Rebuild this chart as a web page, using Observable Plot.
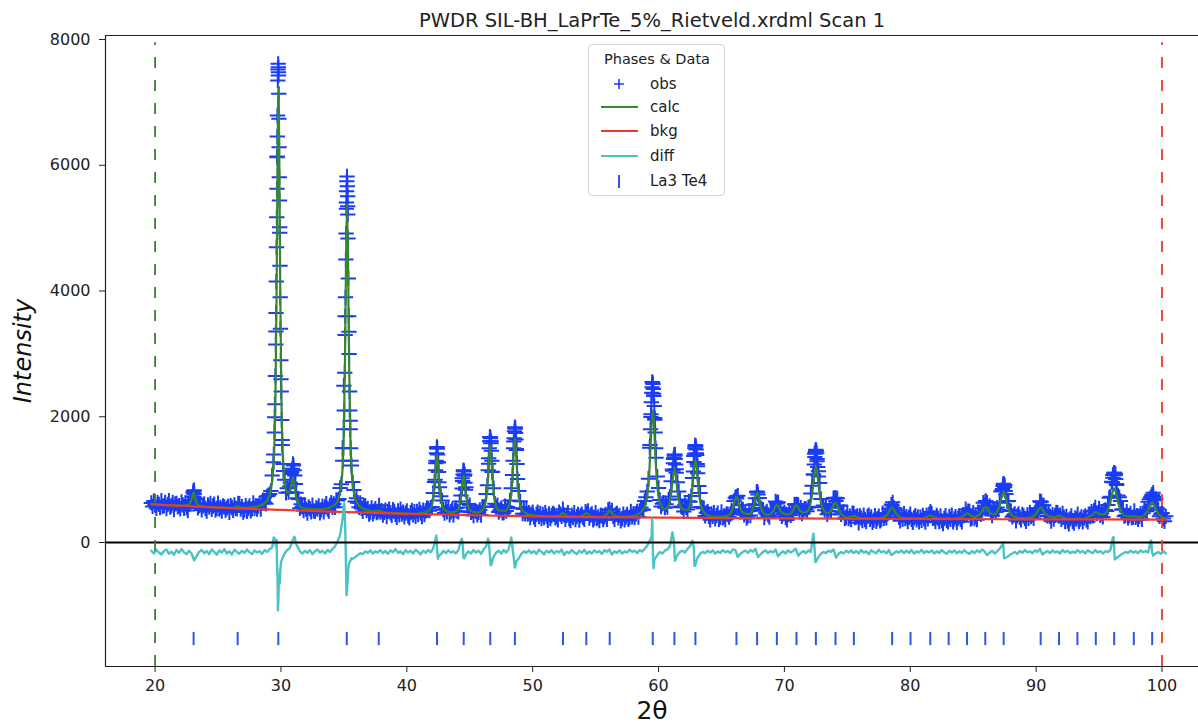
<!DOCTYPE html>
<html><head><meta charset="utf-8">
<script src="https://cdn.jsdelivr.net/npm/d3@7"></script>
<script src="https://cdn.jsdelivr.net/npm/@observablehq/plot@0.6"></script>
<style>
body{margin:0;background:#fff;font-family:"DejaVu Sans",sans-serif;}
#wrap{position:relative;width:1198px;height:723px;overflow:hidden;}
#legend{position:absolute;left:588px;top:44px;width:137px;height:152px;border:1px solid #d4d4d4;border-radius:4px;background:rgba(255,255,255,0.85);box-sizing:border-box;}
</style></head><body><div id="wrap"></div>
<script>
const title = "PWDR SIL-BH_LaPrTe_5%_Rietveld.xrdml Scan 1";
const xTicks = [20, 30, 40, 50, 60, 70, 80, 90, 100];
const yTicks = [0, 2000, 4000, 6000, 8000];
const phaseName = "La3 Te4";

// observed intensity, regular 2θ grid
const obsStart = 19.7, obsStep = 0.1;
const obsI = [
630,574,662,595,544,633,607,556,665,579,
583,637,541,605,664,563,587,636,525,614,
623,567,586,535,644,598,542,631,555,509,
608,678,658,729,831,695,692,550,589,619,
519,583,612,545,499,598,562,621,526,581,
610,514,543,627,531,560,499,583,567,513,
547,576,480,588,557,511,600,542,534,620,
617,531,570,485,519,588,497,541,581,505,
534,631,544,587,531,581,622,530,625,673,
635,616,735,749,771,819,1066,1277,1991,3355,
6139,7428,4928,2597,1631,1136,997,791,864,800,
889,1090,1173,1223,1066,790,703,694,545,610,
568,509,600,531,468,565,538,487,594,504,
495,550,532,582,473,520,577,489,568,616,
537,498,592,632,561,613,561,678,668,691,
868,927,1505,2493,3598,5407,5347,3351,1936,1226,
961,837,653,705,633,560,628,542,494,570,
586,509,544,454,485,551,458,500,538,475,
493,591,485,508,437,480,514,412,496,529,
473,432,521,495,447,401,501,440,530,454,
484,408,468,502,426,391,476,510,440,489,
418,494,445,527,473,411,514,444,501,545,
542,506,556,566,789,963,1259,1520,1273,877,
737,668,522,469,536,489,555,440,489,524,
438,508,548,499,488,654,748,1024,1140,1083,
878,612,556,596,480,498,430,512,495,442,
481,519,436,565,566,574,771,912,1251,1680,
1610,1124,863,616,564,596,484,515,547,471,
474,578,501,564,545,668,865,1074,1605,1830,
1486,1009,819,657,543,459,535,458,536,452,
476,395,451,482,405,368,450,483,412,461,
379,445,395,475,420,354,454,379,428,463,
448,393,412,362,482,449,416,531,441,369,
434,473,380,349,434,399,474,364,413,448,
358,423,452,399,367,492,464,504,389,435,
455,360,390,475,380,409,349,434,419,364,
408,446,368,518,530,467,512,415,368,447,
462,392,431,346,381,451,360,405,445,370,
398,496,410,454,400,452,496,406,504,558,
527,521,662,718,811,1014,1509,1997,2554,2368,
1951,1349,1048,869,676,571,618,632,554,608,
562,685,730,974,1161,1330,1400,1167,960,813,
685,571,559,494,600,561,524,655,650,738,
1028,1374,1526,1418,1214,899,789,566,551,545,
423,472,489,415,362,456,417,474,376,429,
465,370,400,486,392,424,366,456,447,405,
454,516,474,660,712,702,744,593,486,527,
526,441,474,387,425,504,430,506,599,605,
704,800,764,706,551,529,521,395,467,496,
440,404,504,499,495,501,653,619,640,551,
529,417,455,477,396,359,446,488,432,505,
483,608,604,605,600,488,554,459,502,538,
533,499,558,567,779,903,1082,1412,1456,1291,
1135,947,694,561,587,514,571,450,503,554,
495,611,706,704,662,703,590,586,447,475,
486,380,402,481,381,418,365,465,461,397,
406,422,313,422,387,347,436,366,331,416,
437,367,407,322,357,426,336,381,421,346,
365,465,383,434,392,465,537,484,604,639,
549,462,515,462,402,346,438,373,460,382,
410,333,399,449,369,319,394,429,359,409,
328,403,353,433,378,323,435,378,450,491,
460,385,391,333,432,387,332,422,347,302,
382,427,350,330,415,370,437,327,377,412,
322,387,416,367,329,443,434,530,456,497,
494,374,392,473,380,415,364,464,472,448,
543,632,587,660,635,538,583,481,428,508,
537,484,555,523,633,811,834,935,910,771,
658,661,508,500,410,431,453,345,423,453,
401,359,447,422,382,338,440,384,478,411,
444,386,472,543,515,533,657,650,590,591,
462,498,421,481,414,340,444,372,431,479,
473,420,434,368,462,403,334,417,342,297,
377,422,337,307,392,372,452,334,372,407,
328,394,425,361,329,437,413,492,425,508,
557,461,476,541,434,461,407,507,517,502,
596,711,728,968,1075,1110,1090,913,748,721,
661,527,524,419,434,491,391,429,463,397,
405,501,401,427,368,417,457,367,466,523,
498,502,649,688,715,709,792,672,692,553,
527,416,451,469,382,338,417
];
// extra observed points read on the peak flanks
const obsPeakTT = [
23.05,23.08,23.02,23.11,22.99,23.14,
29.78,29.795,29.76,29.802,29.749,29.823,29.722,29.84,29.71,29.855,29.701,29.868,29.685,29.88,29.67,29.90,29.65,29.92,29.63,29.94,29.61,29.96,29.59,29.99,29.56,30.02,29.52,30.06,29.48,30.10,29.43,30.17,
30.75,30.85,30.95,31.05,31.15,
35.25,35.229,35.28,35.213,35.295,35.195,35.31,35.175,35.328,35.157,35.357,35.13,35.384,35.10,35.415,35.07,35.45,35.03,35.47,34.99,35.50,34.95,35.54,34.91,35.57,
42.38,42.42,42.35,42.45,42.32,42.48,42.28,42.52,42.25,42.55,
44.50,44.54,44.47,44.57,44.43,44.62,44.39,44.66,
46.61,46.65,46.58,46.68,46.55,46.72,46.51,46.76,46.47,46.80,
48.58,48.62,48.55,48.65,48.52,48.68,48.48,48.72,48.44,48.76,
59.52,59.56,59.49,59.59,59.46,59.62,59.43,59.66,59.40,59.69,59.36,59.73,59.32,59.77,
61.25,61.29,61.22,61.32,61.18,61.36,61.14,61.40,
62.92,62.96,62.89,62.99,62.85,63.03,62.81,63.07,62.77,63.11,
66.18,67.82,67.86,69.42,70.97,
72.49,72.53,72.46,72.56,72.42,72.60,72.37,72.65,72.32,72.70,
74.05,74.08,78.56,85.97,
87.41,87.45,87.37,87.49,87.33,87.54,
90.36,
96.19,96.23,96.15,96.27,96.10,96.32,96.05,96.38,
99.21,99.26,99.16,99.31
];
const obsPeakI = [
820,810,790,770,730,710,
7613,7560,7523,7480,7348,7137,6792,6739,6457,6287,6128,5810,5625,5439,5174,5015,4697,4400,4150,3900,3650,3400,3150,2900,2650,2400,2200,1950,1750,1550,1400,1250,
950,1120,1250,1150,930,
5821,5746,5667,5587,5508,5307,5216,4915,4835,4500,4200,3900,3600,3300,3000,2700,2400,2100,2100,1800,1800,1500,1500,1300,1300,
1505,1490,1420,1400,1300,1280,1150,1120,1000,960,
1150,1130,1080,1060,980,950,860,840,
1680,1660,1610,1580,1500,1460,1340,1300,1150,1120,
1830,1810,1770,1740,1660,1640,1500,1470,1300,1250,
2540,2520,2470,2440,2380,2330,2230,2170,2040,1980,1800,1750,1550,1500,
1395,1380,1350,1330,1260,1240,1140,1110,
1550,1530,1500,1480,1410,1390,1280,1250,1130,1100,
730,810,800,630,600,
1475,1460,1440,1420,1360,1330,1240,1200,1080,1050,
710,705,590,650,
930,920,900,880,850,820,
645,
1110,1100,1080,1070,1030,1010,960,930,
760,750,735,725
];

// calculated profile
const calcTT = [
19.7,20.5,21.5,22.16,22.46,22.70,22.82,22.91,22.985,23.06,23.135,23.21,23.30,23.42,23.66,23.96,24.5,25.5,
26.26,26.41,26.56,26.71,26.86,27.3,27.5,28.0,28.3,28.6,28.9,29.2,29.44,29.56,29.65,29.725,29.80,29.875,29.95,30.04,30.16,30.40,30.55,30.70,30.85,30.95,31.05,31.2,31.4,31.7,32.3,33.0,33.6,
34.29,34.61,34.866,34.994,35.09,35.17,35.25,35.33,35.41,35.506,35.634,35.89,36.21,36.85,37.42,37.6,37.77,37.95,38.12,38.8,39.6,40.5,
41.26,41.64,41.944,42.096,42.21,42.305,42.40,42.495,42.59,42.704,42.856,43.16,43.54,43.76,44.064,44.216,44.33,44.425,44.52,44.615,44.71,44.824,44.976,45.28,45.66,
45.87,46.174,46.326,46.44,46.535,46.63,46.725,46.82,46.934,47.086,47.39,47.83,48.134,48.286,48.40,48.495,48.59,48.685,48.78,48.894,49.046,49.35,49.73,50.5,51.5,
52.01,52.21,52.41,52.61,52.81,53.4,53.86,54.06,54.26,54.46,54.66,55.3,55.7,55.91,56.12,56.33,56.54,57.2,58.1,
58.58,58.964,59.156,59.30,59.42,59.54,59.66,59.78,59.924,60.116,60.50,60.684,60.876,61.02,61.14,61.26,61.38,61.50,61.644,61.836,62.22,
62.354,62.546,62.69,62.81,62.93,63.05,63.17,63.314,63.506,63.89,64.37,65.0,
65.15,65.566,65.774,65.93,66.06,66.19,66.32,66.45,66.606,66.814,67.206,67.414,67.57,67.70,67.83,67.96,68.09,68.246,68.454,
68.74,68.96,69.125,69.26,69.40,69.54,69.675,69.84,70.30,70.52,70.685,70.82,70.96,71.10,71.235,71.40,
71.84,72.06,72.225,72.36,72.50,72.64,72.775,72.94,73.16,73.388,73.612,73.78,73.92,74.06,74.20,74.34,74.508,74.732,
74.96,75.24,75.52,75.80,76.08,77.0,77.83,78.07,78.25,78.40,78.55,78.70,78.85,79.03,79.27,79.72,80.02,80.32,
80.99,81.29,81.59,81.89,82.19,82.75,83.05,83.35,83.91,84.21,84.51,84.81,85.11,
85.464,85.65,85.805,85.96,86.115,86.27,86.456,86.676,86.924,87.11,87.265,87.42,87.575,87.73,87.916,88.164,88.66,
89.4,89.544,89.816,90.02,90.19,90.36,90.53,90.70,90.904,91.176,91.48,91.82,92.16,92.5,92.94,93.28,93.62,
94.06,94.40,94.74,95.08,95.36,95.64,95.85,96.025,96.20,96.375,96.55,96.76,97.04,97.41,97.76,98.11,
98.356,98.644,98.86,99.04,99.22,99.40,99.58,99.796,100.084,100.3
];
const calcI = [
610,600,590,589,592,605,636,689,757,799,756,686,631,598,580,571,561,553,
552,564,583,562,555,553,559,569,583,611,670,839,1342,2270,3885,5970,7248,5969,3882,2267,1337,830,788,817,959,1025,935,739,615,547,533,528,537,
600,716,1083,1759,2937,4457,5390,4457,2935,1757,1079,710,585,512,496,502,512,496,485,471,464,454,
472,494,563,695,922,1217,1397,1216,921,692,560,496,479,484,526,609,757,950,1066,948,755,607,523,482,479,
495,576,728,997,1335,1548,1335,999,732,580,505,506,593,759,1051,1430,1662,1416,1035,740,571,478,446,426,413,
420,439,466,439,419,408,417,437,466,436,415,404,422,458,512,457,421,411,426,
478,605,840,1249,1776,2100,1786,1260,855,627,530,543,632,803,1031,1170,1046,814,637,544,514,
532,651,865,1144,1315,1140,857,637,511,434,410,409,
411,436,482,563,667,731,670,571,497,463,451,502,595,715,789,720,592,499,450,
440,461,504,565,595,571,510,468,443,466,511,571,591,559,509,475,
502,608,802,1054,1209,1054,803,610,503,467,482,533,602,630,594,517,457,421,
395,406,424,398,384,384,398,423,467,524,559,524,467,422,396,384,394,384,
383,401,430,401,382,380,387,380,388,416,467,426,405,
439,481,541,565,548,495,459,447,500,599,730,810,727,593,482,421,389,
393,398,418,464,524,560,524,464,428,409,405,426,398,376,370,382,370,
397,431,482,451,446,502,613,766,860,766,613,494,425,414,416,409,
409,445,503,588,640,588,503,437,399,385
];

// background
const bkgTT = [19.7,20,22,24,26,28,30,32,34,36,38,40,42,44,46,48,50,55,60,65,70,75,80,85,90,95,100,100.3];
const bkgI  = [610,605,585,565,548,532,518,505,492,480,468,457,447,438,430,423,417,405,396,389,383,378,374,371,369,367,365,365];

// difference curve (plotted with its offset), regular grid + extra points at the peaks
const diffStart = 19.7, diffStep = 0.2;
const diffI = [
-130,-175,-115,-160,-190,-135,-110,-180,-145,-195,-120,-165,-105,-155,-185,-130,-175,-285,-215,-150,
-120,-170,-135,-185,-110,-150,-195,-125,-160,-105,-175,-140,-190,-115,-150,-180,-130,-165,-110,-155,
-185,-125,-160,-135,-180,-120,-150,-105,-80,60,-500,-650,-260,-170,-120,-90,20,80,-60,-140,
-175,-130,-165,-120,-185,-140,-110,-160,-130,-175,-120,-150,-100,-60,20,120,380,300,-600,-300,
-260,-230,-200,-170,-185,-140,-165,-125,-175,-140,-160,-120,-170,-135,-180,-125,-155,-105,-165,-140,
-185,-120,-160,-130,-175,-115,-150,-190,-130,-165,-120,-155,-90,80,-230,-190,-130,-170,-125,-160,
-140,-175,-120,30,-240,-190,-140,-175,-120,-160,-130,-180,-110,-60,40,-360,-220,-160,-130,-175,
-120,-160,-100,80,-250,-300,-250,-180,-140,-165,-125,-170,-135,-180,-115,-150,-190,-130,-160,-120,
-175,-135,-160,-110,-200,-145,-170,-120,-155,-185,-130,-165,-115,-180,-140,-175,-125,-160,-135,-180,
-120,-150,-110,-190,-140,-165,-125,-175,-140,-160,-115,-150,-130,-170,-120,-145,-100,-50,30,380,
-260,-200,-150,-175,-130,-110,-60,160,-290,-200,-150,-130,-160,-100,-60,30,-370,-240,-180,-150,
-170,-130,-160,-125,-175,-140,-165,-120,-155,-135,-170,-110,-120,-230,-180,-150,-130,-165,-120,-145,
-100,-230,-190,-150,-125,-170,-135,-160,-110,-220,-170,-140,-175,-125,-160,-130,-100,-210,-165,-135,
-170,-125,-150,140,-310,-230,-180,-150,-170,-130,-150,-110,-240,-180,-150,-175,-130,-160,-125,-170,
-135,-175,-120,-160,-140,-185,-125,-150,-170,-115,-160,-135,-175,-120,-200,-170,-140,-160,-125,-170,
-130,-165,-120,-175,-140,-160,-115,-170,-135,-160,-125,-175,-140,-165,-120,-155,-180,-130,-160,-125,
-170,-140,-165,-120,-160,-180,-135,-170,-125,-155,-110,-140,-200,-165,-130,-175,-140,-100,-40,-250,
-230,-200,-175,-150,-180,-135,-165,-120,-155,-140,-170,-125,-150,-100,-190,-160,-135,-170,-125,-160,
-140,-175,-120,-155,-130,-170,-145,-165,-120,-160,-135,-175,-125,-150,-170,-120,-160,-135,-175,-140,
-150,-120,80,-260,-230,-200,-175,-150,-165,-130,-160,-140,-170,-125,-155,-135,-160,30,-210,-175,
-150,-180,-140,-170
];
const diffPeakTT = [29.42,29.60,29.66,29.72,29.76,29.80,29.84,29.88,29.94,30.0,31.05,31.2,
34.95,35.03,35.15,35.21,35.27,35.35,35.42,35.6,
42.25,42.35,42.42,42.47,42.6,44.38,44.45,44.56,46.45,46.6,46.66,48.58,48.62,
59.45,59.55,59.6,59.65,61.2,61.25,62.8,62.85,63.0,72.4,72.45,87.38,87.45,96.15,96.2,96.25,99.15,99.2];
const diffPeakI = [80,-60,40,-400,-1080,-900,-520,-650,-480,-320,90,-20,
500,620,-200,-840,-700,-420,-330,-250,
20,110,-150,-260,-200,60,-60,-250,60,-200,-360,-400,-380,
100,-150,-410,-300,50,-100,-80,-370,-300,-100,-310,0,-250,85,-100,-270,30,-150];

// La3 Te4 reflection positions
const reflTT = [23.06,26.56,29.79,35.23,37.77,42.40,44.52,46.63,48.59,52.41,54.26,56.12,59.54,61.26,62.93,66.19,67.83,69.40,70.96,72.50,74.06,75.52,78.56,80.02,81.59,83.05,84.51,85.96,87.42,90.36,91.82,93.28,94.74,96.20,97.76,99.22];

// ---- build tables ----
const obs = obsI.map((v, i) => ({tt: +(obsStart + i * obsStep).toFixed(3), I: v}))
  .concat(obsPeakTT.map((t, i) => ({tt: t, I: obsPeakI[i]})));
const calc = calcTT.map((t, i) => ({tt: t, I: calcI[i]}));
const bkg = bkgTT.map((t, i) => ({tt: t, I: bkgI[i]}));
const diff = d3.sort(diffI.map((v, i) => ({tt: +(diffStart + i * diffStep).toFixed(3), I: v}))
  .concat(diffPeakTT.map((t, i) => ({tt: t, I: diffPeakI[i]}))), d => d.tt);

const C = {obs: "#1a3cf5", calc: "#37862f", bkg: "#ec3b2a", diff: "#4cc3c3", refl: "#3553e6", axis: "#222"};
const xDom = [16.06, 102.9], yDom = [-1972, 8064];

const chart = Plot.plot({
  width: 1198, height: 723,
  marginLeft: 105, marginRight: 0, marginTop: 35, marginBottom: 57,
  x: {domain: xDom},
  y: {domain: yDom},
  style: {fontFamily: "DejaVu Sans", fontSize: "16px", color: C.axis, background: "white"},
  marks: [
    Plot.dot(obs, {x: "tt", y: "I", symbol: "plus", r: 5, stroke: C.obs, strokeWidth: 2}),
    Plot.line(calc, {x: "tt", y: "I", stroke: C.calc, strokeWidth: 2.2, curve: "monotone-x"}),
    Plot.line(bkg, {x: "tt", y: "I", stroke: C.bkg, strokeWidth: 2.2, curve: "monotone-x"}),
    Plot.line(diff, {x: "tt", y: "I", stroke: C.diff, strokeWidth: 2.4}),
    Plot.ruleY([0], {stroke: "black", strokeWidth: 1.8}),
    Plot.ruleX(reflTT, {x: d => d, y1: -1430, y2: -1640, stroke: C.refl, strokeWidth: 2}),
    Plot.ruleX([20], {y1: yDom[0], y2: 7950, stroke: C.calc, strokeWidth: 1.8, strokeDasharray: "11,12"}),
    Plot.ruleX([100], {y1: yDom[0], y2: 7950, stroke: C.bkg, strokeWidth: 1.8, strokeDasharray: "11,12"}),
    Plot.ruleX([xDom[0]], {stroke: C.axis, strokeWidth: 1.2}),
    Plot.ruleY([yDom[0]], {stroke: C.axis, strokeWidth: 1.2}),
    Plot.ruleY([yDom[1]], {stroke: C.axis, strokeWidth: 1.2}),
    Plot.axisX({ticks: xTicks, tickSize: 6, tickPadding: 7, tickFormat: d => String(d), label: null, stroke: C.axis}),
    Plot.axisY({ticks: yTicks, tickSize: 6, tickPadding: 9, tickFormat: d => String(d), label: null, stroke: C.axis}),
    Plot.text([title], {text: d => d, frameAnchor: "top", lineAnchor: "middle", textAnchor: "middle", dy: -15, fontSize: 19.5, fill: C.axis}),
    Plot.text(["Intensity"], {text: d => d, frameAnchor: "left", textAnchor: "middle", lineAnchor: "middle", dx: -82, rotate: -90, fontSize: 24, fontStyle: "italic", fill: "#111"}),
    Plot.text(["2θ"], {text: d => d, frameAnchor: "bottom", textAnchor: "middle", lineAnchor: "middle", dy: 44, fontSize: 25, fill: "#111"})
  ]
});
const wrap = document.getElementById("wrap");
wrap.appendChild(chart);

// legend
const leg = document.createElement("div");
leg.id = "legend";
leg.innerHTML = `<svg width="137" height="152" font-family="DejaVu Sans" font-size="15" fill="#222">
<text x="68" y="19" text-anchor="middle" font-size="14.5">Phases &amp; Data</text>
<path d="M25,39H35M30,34V44" stroke="${C.obs}" stroke-width="1.6"/>
<text x="61" y="44">obs</text>
<line x1="12" x2="49" y1="62" y2="62" stroke="${C.calc}" stroke-width="2.2"/>
<text x="61" y="67">calc</text>
<line x1="12" x2="49" y1="86" y2="86" stroke="${C.bkg}" stroke-width="2.2"/>
<text x="61" y="91">bkg</text>
<line x1="12" x2="49" y1="111" y2="111" stroke="${C.diff}" stroke-width="2.2"/>
<text x="61" y="116">diff</text>
<line x1="30" x2="30" y1="130" y2="143" stroke="${C.refl}" stroke-width="2"/>
<text x="61" y="141">${phaseName}</text>
</svg>`;
wrap.appendChild(leg);
</script>
</body></html>
